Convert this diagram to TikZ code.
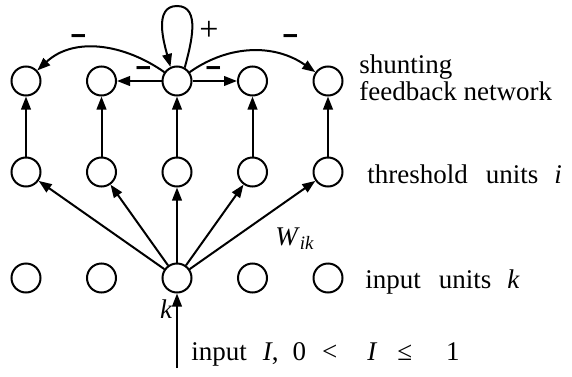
\documentclass[tikz,border=0pt]{standalone}
\usepackage{fontspec}
\setmainfont{Liberation Serif}
\usetikzlibrary{arrows.meta}

\begin{document}
\begin{tikzpicture}[x=0.5pt, y=0.5pt]
\tikzset{neurone/.style={draw, circle, line width=1pt, minimum size=14.5pt, inner sep=0pt}}
\tikzset{fleche/.style={-{Triangle[length=6.5pt,width=4.8pt]}, line width=1pt}}
\tikzset{texte/.style={font=\fontsize{13.5}{14}\selectfont, inner sep=0pt}}
\tikzset{signe/.style={font=\fontsize{14.5}{14.5}\selectfont\bfseries, inner sep=0pt, yscale=1.5, transform shape}}
\useasboundingbox (0,0) rectangle (572,376);
\node[neurone] (T1) at (26,295) {};
\node[neurone] (T2) at (101.5,295) {};
\node[neurone] (T3) at (177,295) {};
\node[neurone] (T4) at (252.5,295) {};
\node[neurone] (T5) at (328,295) {};
\node[neurone] (M1) at (26,204) {};
\node[neurone] (M2) at (101.5,204) {};
\node[neurone] (M3) at (177,204) {};
\node[neurone] (M4) at (252.5,204) {};
\node[neurone] (M5) at (328,204) {};
\node[neurone] (B1) at (26,98) {};
\node[neurone] (B2) at (101.5,98) {};
\node[neurone] (B3) at (177,98) {};
\node[neurone] (B4) at (252.5,98) {};
\node[neurone] (B5) at (328,98) {};
\coordinate (E) at (177,8);
\coordinate (H) at (177,370);
\node[texte, anchor=base west] (L1) at (359,303) {shunting};
\node[texte, anchor=base west] (L2) at (359,276) {feedback network};
\node[texte, anchor=base west] (L3) at (367,193) {threshold\hspace{9pt}units\hspace{8pt}\textit{i}};
\node[texte, anchor=base west] (L4) at (365,88) {input\hspace{9pt}units\hspace{8pt}\textit{k}};
\node[texte, anchor=base west] (L5) at (275,131) {\textit{W}\textsubscript{\textit{ik}}};
\node[texte, anchor=base east] (L6) at (173,58) {\textit{k}};
\node[texte, anchor=base west] (L7) at (191,16) {input\hspace{8pt}\textit{I},\hspace{7pt}0\hspace{8pt}<\hspace{15pt}\textit{I}\hspace{10pt}≤\hspace{17pt}1};
\node[signe] (S1) at (79,333) {−};
\node[signe] (S2) at (291,333) {−};
\node[signe] (S3) at (144,301) {−};
\node[signe] (S4) at (214,301) {−};
\node[texte, font=\fontsize{17}{17}\selectfont] (S5) at (209,345) {+};
\draw[fleche] (E) -- (B3);
\draw[fleche] (B3) -- (M1);
\draw[fleche] (B3) -- (M2);
\draw[fleche] (B3) -- (M3);
\draw[fleche] (B3) -- (M4);
\draw[fleche] (B3) -- (M5);
\draw[fleche] (M1) -- (T1);
\draw[fleche] (M2) -- (T2);
\draw[fleche] (M3) -- (T3);
\draw[fleche] (M4) -- (T4);
\draw[fleche] (M5) -- (T5);
\draw[fleche] (T3) -- (T2);
\draw[fleche] (T3) -- (T4);
\draw[fleche] (T3) to[out=145,in=43] (T1);
\draw[fleche] (T3) to[out=35,in=145] (T5);
\draw[fleche] (T3.60) to[out=75,in=0] (H) to[out=180,in=105] (T3.115);
\end{tikzpicture}
\end{document}
